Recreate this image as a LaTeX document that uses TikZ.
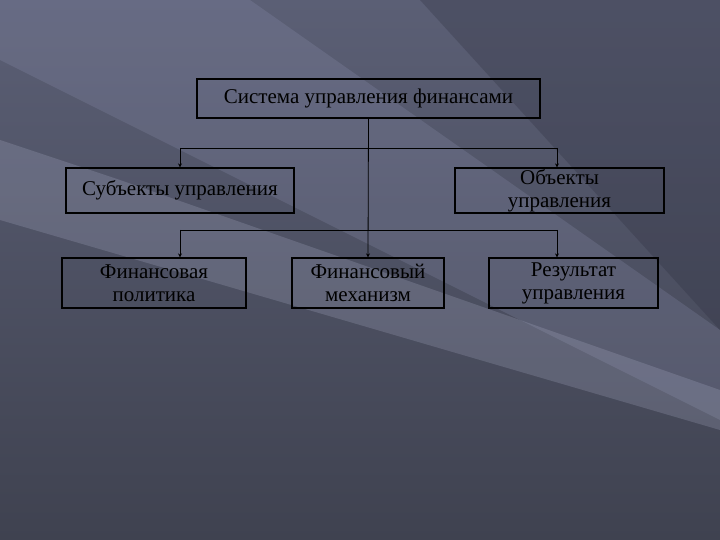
\documentclass[tikz,border=0pt]{standalone}
\usepackage{fontspec}
\setmainfont{Liberation Serif}
\usetikzlibrary{arrows.meta,shadows}
\definecolor{bgtop}{HTML}{5B5F75}
\definecolor{bgbot}{HTML}{3F4250}
\definecolor{band1}{HTML}{9A9EC0}
\definecolor{band2}{HTML}{BFC3DD}
\definecolor{darkc}{HTML}{2E3040}
\begin{document}
\begin{tikzpicture}[x=1pt,y=-1pt,
  box/.style={draw=black,line width=1.2pt,align=center,font=\fontsize{21}{23}\selectfont,text=black,inner sep=1pt},
  conn/.style={draw=black,line width=0.8pt},
  arr/.style={conn,-{Stealth[length=4pt,width=4pt]}}]
\useasboundingbox (0,0) rectangle (720,540);
\shade[top color=bgtop,bottom color=bgbot] (0,0) rectangle (720,540);
\fill[band1,opacity=0.2] (0,0) -- (250,0) -- (720,330) -- (720,420) -- (0,60) -- cycle;
\fill[band2,opacity=0.2] (0,140) -- (120,180) -- (720,390) -- (720,430) -- (0,220) -- cycle;
\fill[darkc,opacity=0.3] (420,0) -- (720,0) -- (720,330) -- cycle;
\node[box,minimum width=343,minimum height=39] (top) at (368.5,98.5) {Система управления финансами};
\node[box,minimum width=228,minimum height=45] (subj) at (180,190.5) {Субъекты управления};
\node[box,minimum width=209,minimum height=45] (obj) at (559.5,190.5) {Объекты\\управления};
\node[box,minimum width=184,minimum height=50] (pol) at (154,283) {Финансовая\\политика};
\node[box,minimum width=152,minimum height=50] (mech) at (368,283) {Финансовый\\механизм};
\node[box,minimum width=169,minimum height=50] (res) at (573.5,283) {Результат\\управления};
\coordinate (h1l) at (180,148); \coordinate (h1r) at (557,148);
\coordinate (h2l) at (180,230); \coordinate (h2r) at (557,230);
\draw[arr] (top.south) -- (mech.north);
\draw[conn] (h1l) -- (h1r);
\draw[arr] (h1l) -- (subj.north);
\draw[arr] (h1r) -- (h1r |- obj.north);
\draw[conn] (h2l) -- (h2r);
\draw[arr] (h2l) -- (h2l |- pol.north);
\draw[arr] (h2r) -- (h2r |- res.north);
\end{tikzpicture}
\end{document}
